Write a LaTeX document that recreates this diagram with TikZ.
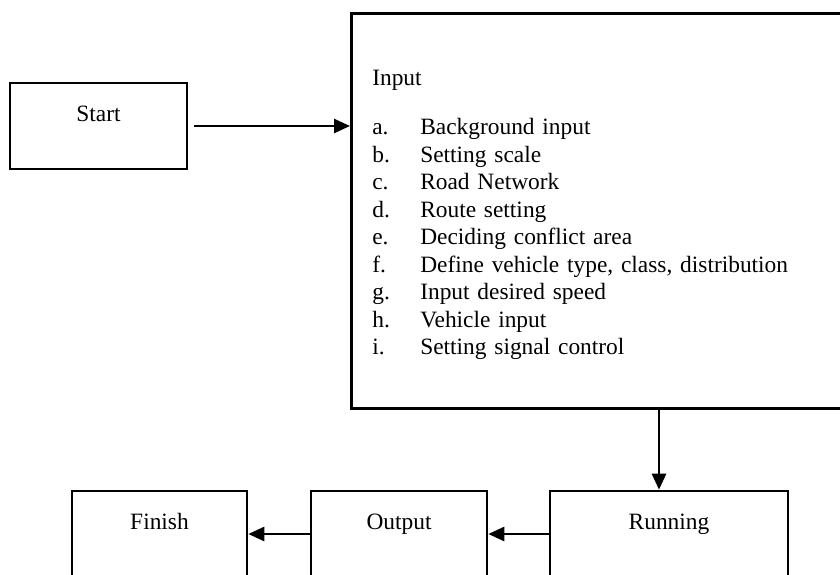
\documentclass[tikz,border=0pt]{standalone}
\usepackage{fontspec}
\setmainfont{Liberation Serif}
\usetikzlibrary{arrows.meta}
\newcommand\inrow[2]{\makebox[24pt][l]{#1}#2}
\begin{document}
\begin{tikzpicture}[x=.5pt,y=-.5pt,line width=1.3pt,
  font=\fontsize{11.7}{13.75}\selectfont,
  box/.style={draw,inner sep=0pt,minimum height=43pt,text height=9pt,text depth=14pt},
  flow/.style={-{Triangle[length=8pt,width=7pt]}}]
  \useasboundingbox (0,0) rectangle (840,574);
  \clip (0,0) rectangle (840,574);
  \node[box,minimum width=88.5pt] (S) at (98.5,126) {Start};
  \node[draw,anchor=north west,minimum height=197.5pt,text width=229pt,
    inner xsep=10.5pt,align=left] (I) at (350,12)
    {\rule{0pt}{12pt}Input\\[10.75pt]
     \inrow{a.}{Background input}\\
     \inrow{b.}{Setting scale}\\
     \inrow{c.}{Road Network}\\
     \inrow{d.}{Route setting}\\
     \inrow{e.}{Deciding conflict area}\\
     \inrow{f.}{Define vehicle type, class, distribution}\\
     \inrow{g.}{Input desired speed}\\
     \inrow{h.}{Vehicle input}\\
     \inrow{i.}{Setting signal control}};
  \node[box,minimum width=119pt] (R) at (669,534) {Running};
  \node[box,minimum width=88pt] (O) at (399,534) {Output};
  \node[box,minimum width=87.5pt] (F) at (159.5,534) {Finish};
  \draw[flow] ([xshift=3pt]S.east) -- (I.west |- S.east);
  \draw[flow] ([xshift=-5pt]R.north |- I.south) -- ([xshift=-5pt]R.north);
  \draw[flow] (R.west) -- (O.east);
  \draw[flow] (O.west) -- (F.east);
\end{tikzpicture}
\end{document}
